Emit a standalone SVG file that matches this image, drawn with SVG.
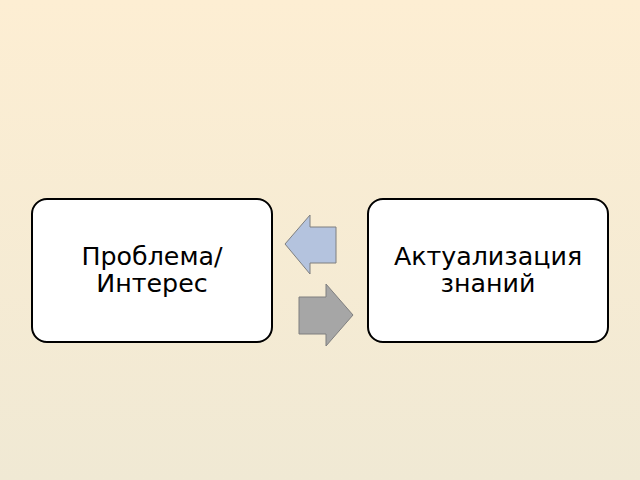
<svg xmlns="http://www.w3.org/2000/svg" width="640" height="480" viewBox="0 0 640 480">
<defs>
<linearGradient id="bg" x1="0" y1="0" x2="0" y2="1">
<stop offset="0" stop-color="#fdeed3"/>
<stop offset="1" stop-color="#f0e9d4"/>
</linearGradient>
<style>
.box{fill:#ffffff;stroke:#000000;stroke-width:2}
.lbl{font-family:"DejaVu Sans",sans-serif;font-size:25.3px;fill:#000000;text-anchor:middle}
.arr{stroke:#7f7f7f;stroke-width:1}
</style>
</defs>
<rect width="640" height="480" fill="url(#bg)"/>
<g id="node1">
<rect class="box" x="32" y="199" width="240" height="143" rx="15"/>
<text class="lbl" x="152" y="265">Проблема/</text>
<text class="lbl" x="152" y="292">Интерес</text>
</g>
<g id="node2">
<rect class="box" x="368" y="199" width="240" height="143" rx="15"/>
<text class="lbl" x="488" y="265">Актуализация</text>
<text class="lbl" x="488" y="292">знаний</text>
</g>
<g id="connectors">
<polygon class="arr" fill="#b4c3de" points="285,244 310,215 310,227 336,227 336,263 310,263 310,274"/>
<polygon class="arr" fill="#a6a6a6" points="299,297 326,297 326,284 353,315 326,346 326,334 299,334"/>
</g>
</svg>
